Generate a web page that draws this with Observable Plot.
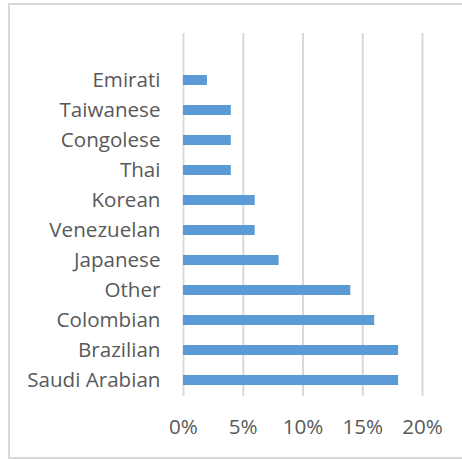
<!DOCTYPE html>
<html>
<head>
<meta charset="utf-8">
<script src="https://cdn.jsdelivr.net/npm/d3@7"></script>
<script src="https://cdn.jsdelivr.net/npm/@observablehq/plot@0.6"></script>
<style>
  html, body { margin: 0; padding: 0; background: #fff; }
  #wrap { position: relative; width: 462px; height: 459px; overflow: hidden; }
  #border { position: absolute; left: 8px; top: 3px; width: 480px; height: 452px; border: 2px solid #d9d9d9; box-sizing: content-box; pointer-events: none; }
  #chart { position: absolute; left: 0; top: 0; }
</style>
</head>
<body>
<div id="wrap"><div id="chart"></div><div id="border"></div></div>
<script>
const categories = ["Emirati", "Taiwanese", "Congolese", "Thai", "Korean", "Venezuelan", "Japanese", "Other", "Colombian", "Brazilian", "Saudi Arabian"];
const values = [0.02, 0.04, 0.04, 0.04, 0.06, 0.06, 0.08, 0.14, 0.16, 0.18, 0.18];
const xTicks = [0, 0.05, 0.10, 0.15, 0.20];
const xTickLabels = ["0%", "5%", "10%", "15%", "20%"];

const data = categories.map((c, i) => ({category: c, value: values[i]}));
const fmt = (d) => xTickLabels[xTicks.findIndex(t => Math.abs(t - d) < 1e-9)];

const chart = Plot.plot({
  width: 462,
  height: 459,
  marginLeft: 183,
  marginRight: 40,
  marginTop: 33,
  marginBottom: 63,
  style: {fontFamily: "'Open Sans', sans-serif", fontSize: "20.6px", color: "#595959", background: "transparent"},
  x: {domain: [0, 0.2], ticks: xTicks, tickFormat: fmt, tickSize: 0, tickPadding: 23, label: null},
  y: {domain: [" ", ...categories], paddingInner: 0.67, paddingOuter: 0.335, tickSize: 0, tickPadding: 23, label: null},
  marks: [
    Plot.ruleX(xTicks, {stroke: "#d9d9d9", strokeWidth: 2}),
    Plot.barX(data, {x: "value", y: "category", fill: "#5b9bd5"}),
    Plot.axisX({ticks: xTicks, tickFormat: fmt, tickSize: 0, tickPadding: 23, fill: "#595959", fontSize: 20.6, label: null}),
    Plot.axisY({tickSize: 0, tickPadding: 23, fill: "#595959", fontSize: 20.6, label: null})
  ]
});
document.getElementById("chart").appendChild(chart);
</script>
</body>
</html>
